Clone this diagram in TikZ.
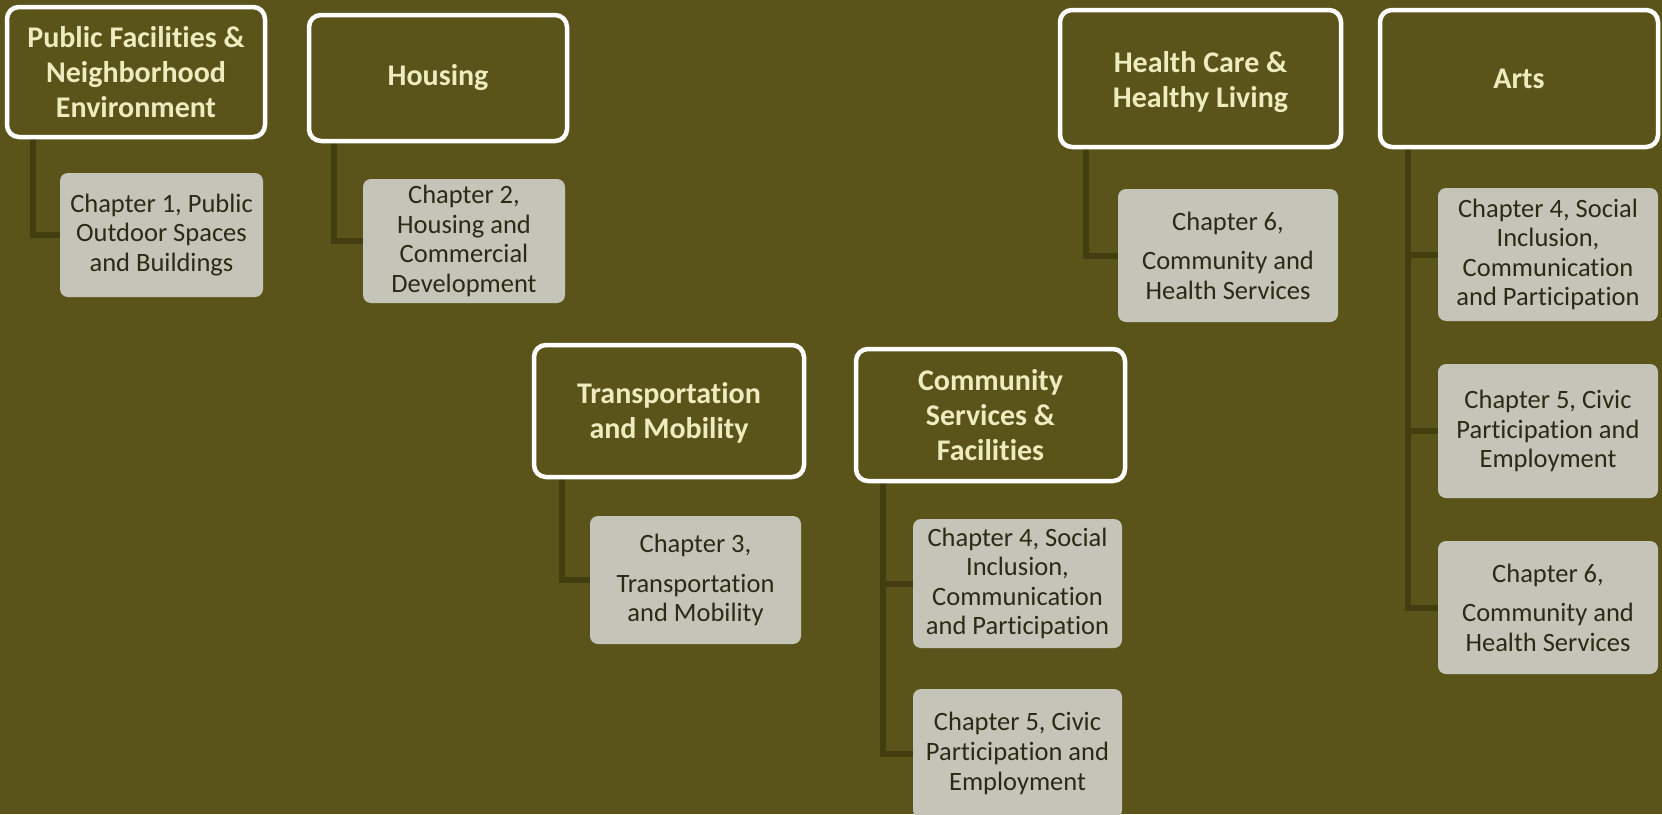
\documentclass[tikz,border=0pt]{standalone}
\usepackage{fontspec}
\setmainfont[Ligatures={NoCommon,NoRare,NoContextual},Contextuals=NoAlternate]{Carlito}
\definecolor{bg}{HTML}{5A541B}
\definecolor{ptext}{HTML}{EEEBBF}
\definecolor{cfill}{HTML}{C4C4B8}
\definecolor{ctext}{HTML}{2B2A15}
\definecolor{conn}{HTML}{423E10}
\tikzset{
  parent/.style={draw=white, line width=4.5pt, fill=bg, rounded corners=12pt, text=ptext,
    font=\fontsize{30}{35}\selectfont\bfseries, align=center, inner sep=0pt},
  child/.style={fill=cfill, rounded corners=8pt, text=ctext,
    font=\fontsize{26.5}{29.6}\selectfont, align=center, inner sep=0pt},
  connector/.style={draw=conn, line width=6pt}
}
\begin{document}
\begin{tikzpicture}[x=1pt,y=-1pt]
\fill[bg] (0,0) rectangle (1662,814);
\useasboundingbox (0,0) rectangle (1662,814);
% children
\node[child, minimum width=203pt, minimum height=124pt] (c1) at (161.5,235) {Chapter 1, Public\\Outdoor Spaces\\and Buildings};
\node[child, minimum width=202pt, minimum height=124pt] (c2) at (464,241) {Chapter 2,\\Housing and\\Commercial\\Development};
\node[child, minimum width=211pt, minimum height=128pt] (c3) at (695.5,580) {Chapter 3,\\[10pt]Transportation\\and Mobility};
\node[child, minimum width=209pt, minimum height=129pt] (c4a) at (1017.5,583.5) {Chapter 4, Social\\Inclusion,\\Communication\\and Participation};
\node[child, minimum width=209pt, minimum height=129pt] (c4b) at (1017.5,753.5) {Chapter 5, Civic\\Participation and\\Employment};
\node[child, minimum width=220pt, minimum height=133pt] (c6) at (1228,255.5) {Chapter 6,\\[10pt]Community and\\Health Services};
\node[child, minimum width=220pt, minimum height=133pt] (a1) at (1548,254.5) {Chapter 4, Social\\Inclusion,\\Communication\\and Participation};
\node[child, minimum width=220pt, minimum height=134pt] (a2) at (1548,431) {Chapter 5, Civic\\Participation and\\Employment};
\node[child, minimum width=220pt, minimum height=133pt] (a3) at (1548,607.5) {Chapter 6,\\[10pt]Community and\\Health Services};
% connector starting points (under the parent boxes)
\coordinate (k1) at (33,139);
\coordinate (k2) at (334,143);
\coordinate (k3) at (1086,149);
\coordinate (k4) at (1408,149);
\coordinate (k5) at (562,479);
\coordinate (k6) at (883,483);
\draw[connector] (k1) |- (c1.west);
\draw[connector] (k2) |- (c2.west);
\draw[connector] (k3) |- (c6.west);
\draw[connector] (k5) |- (c3.west);
\draw[connector] (k6) |- (c4b.west);
\draw[connector] (k6) |- (c4a.west);
\draw[connector] (k4) |- (a3.west);
\draw[connector] (k4) |- (a2.west);
\draw[connector] (k4) |- (a1.west);
% parents
\node[parent, minimum width=258pt, minimum height=130pt] (p1) at (136,72) {Public Facilities \&\\Neighborhood\\Environment};
\node[parent, minimum width=258pt, minimum height=126pt] (p2) at (438,78) {Housing};
\node[parent, minimum width=281pt, minimum height=137pt] (p3) at (1200.5,78.5) {\rule{0pt}{27.5pt}Health Care \&\\Healthy Living};
\node[parent, minimum width=278pt, minimum height=137pt] (p4) at (1519,78.5) {Arts};
\node[parent, minimum width=270pt, minimum height=132pt] (p5) at (669,411) {\rule{0pt}{25pt}Transportation\\and Mobility};
\node[parent, minimum width=269pt, minimum height=132pt] (p6) at (990.5,415) {Community\\Services \&\\Facilities};
\end{tikzpicture}
\end{document}
